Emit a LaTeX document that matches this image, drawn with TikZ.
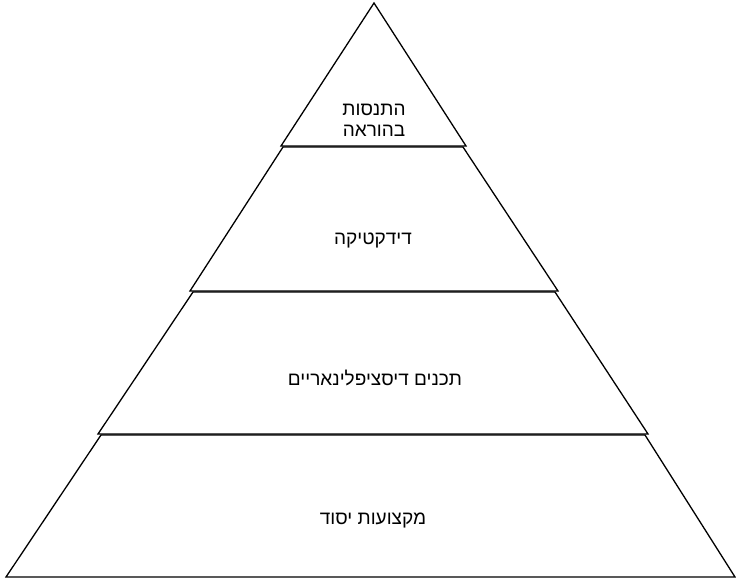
\documentclass[tikz,border=0pt]{standalone}
\usepackage{fontspec}
\newfontfamily\hebfont[Script=Hebrew]{Liberation Sans}
\TeXXeTstate=1
\begin{document}
\begin{tikzpicture}[x=1pt,y=-1pt,
  layer/.style={draw=black,line width=1.3pt,line join=miter},
  lbl/.style={font=\hebfont\fontsize{19}{28}\selectfont,align=center,inner sep=0pt}]
\useasboundingbox (0,0) rectangle (736,579);
% top triangle
\draw[layer] (374,3) -- (466,146) -- (281,146) -- cycle;
% second layer
\draw[layer] (283,147) -- (463,147) -- (558,291) -- (190,291) -- cycle;
% third layer
\draw[layer] (193,292) -- (555,292) -- (648,434) -- (98,434) -- cycle;
% bottom layer
\draw[layer] (101,435) -- (645,435) -- (735,577) -- (6,577) -- cycle;
\node[lbl] (l1a) at (374,110) {\beginR התנסות\endR};
\node[lbl] (l1b) at (374,131) {\beginR בהוראה\endR};
\node[lbl] (l2) at (373,240) {\beginR דידקטיקה\endR};
\node[lbl] (l3) at (375,378) {\beginR תכנים דיסציפלינאריים\endR};
\node[lbl] (l4) at (373,520) {\beginR מקצועות יסוד\endR};
\end{tikzpicture}
\end{document}
